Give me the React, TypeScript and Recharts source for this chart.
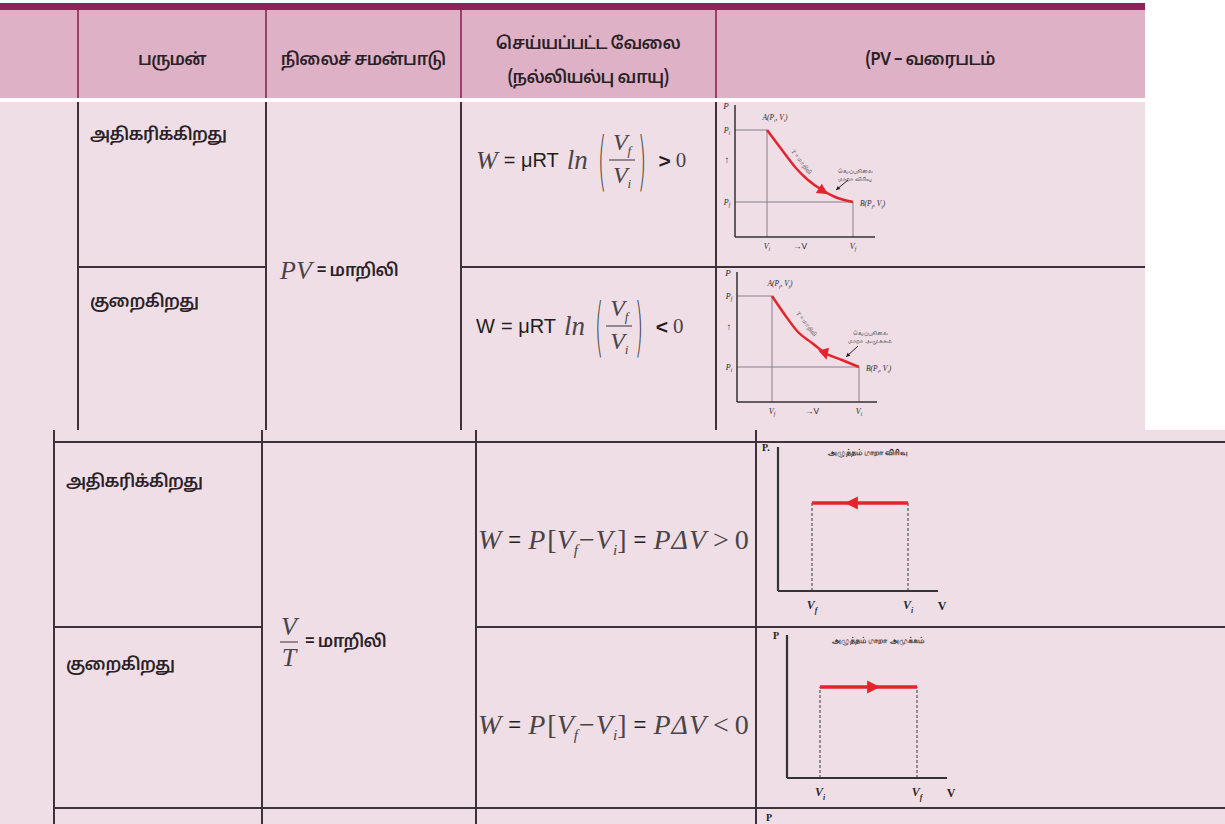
import React from 'react';
import { LineChart, Line, XAxis, YAxis, ReferenceLine, ReferenceDot } from 'recharts';

// ---------- table text ----------
const headerTitles = ['பருமன்', 'நிலைச் சமன்பாடு', 'செய்யப்பட்ட வேலை', '(நல்லியல்பு வாயு)', '(PV – வரைபடம்'];
const quantityStates = ['அதிகரிக்கிறது', 'குறைகிறது'];
const constantWord = 'மாறிலி';

// ---------- diagram 1: isothermal expansion ----------
const isoExpV = [3.2, 4.7, 6.0, 7.3, 8.7, 10.0, 11.8];
const isoExpP = [10.7, 8.7, 7.0, 5.7, 4.7, 4.0, 3.5];
const isoExpXTicks = [3.2, 6.5, 11.8];
const isoExpXLabels = ['V_i', '→V', 'V_f'];
const isoExpYTicks = [3.5, 7.7, 10.7];
const isoExpYLabels = ['P_f', '↑', 'P_i'];
const isoExpPointLabels = ['A(P_i, V_i)', 'B(P_f, V_f)'];
const isoExpNote = ['வெப்பநிலை', 'மாறா விரிவு'];
const isoExpArrow = [8.8, 4.6];

// ---------- diagram 2: isothermal compression ----------
const isoCompV = [3.5, 4.8, 6.1, 7.5, 8.8, 10.5, 12.2];
const isoCompP = [10.6, 8.7, 7.0, 5.9, 4.9, 4.2, 3.5];
const isoCompXTicks = [3.5, 7.5, 12.2];
const isoCompXLabels = ['V_f', '→V', 'V_i'];
const isoCompYTicks = [3.5, 7.5, 10.6];
const isoCompYLabels = ['P_i', '↑', 'P_f'];
const isoCompPointLabels = ['A(P_f, V_f)', 'B(P_i, V_i)'];
const isoCompNote = ['வெப்பநிலை', 'மாறா அமுக்கம்'];
const isoCompArrow = [8.8, 4.8];

// ---------- diagram 3: isobaric expansion ----------
const isobarExpV = [3.4, 13.0];
const isobarExpP = [8.8, 8.8];
const isobarExpXTicks = [3.4, 13.0];
const isobarExpXLabels = ['V_f', 'V_i'];
const isobarExpTitle = 'அழுத்தம் மாறா விரிவு';
const isobarExpArrow = [7.4, 8.8];

// ---------- diagram 4: isobaric compression ----------
const isobarCompV = [3.3, 13.0];
const isobarCompP = [9.1, 9.1];
const isobarCompXTicks = [3.3, 13.0];
const isobarCompXLabels = ['V_i', 'V_f'];
const isobarCompTitle = 'அழுத்தம் மாறா அமுக்கம்';
const isobarCompArrow = [8.6, 9.1];

const toPts = (vs: number[], ps: number[]) => vs.map((v, i) => ({ v, p: ps[i] }));

const C = {
  band: '#8c2458',
  header: '#dfb1c6',
  headerSep: '#9d3f6c',
  body: '#efdee6',
  line: '#3d3239',
  text: '#231d21',
  red: '#e4242c',
  guide: '#8a8088',
};

const SERIF = "'Liberation Serif', 'DejaVu Serif', serif";
const SANS = "'Liberation Sans', Arimo, 'Noto Sans', sans-serif";

function SubText({ x, y, label, size, anchor = 'middle', italic = true, weight = 'normal', family = SERIF }: any) {
  const parts = label.split('_');
  const out: any[] = [];
  out.push(<tspan key="b0">{parts[0]}</tspan>);
  for (let i = 1; i < parts.length; i++) {
    out.push(
      <tspan key={'s' + i} dy={size * 0.3} fontSize={size * 0.65}>
        {parts[i].charAt(0)}
      </tspan>
    );
    const rest = parts[i].slice(1);
    if (rest) out.push(<tspan key={'r' + i} dy={-size * 0.3}>{rest}</tspan>);
  }
  return (
    <text x={x} y={y} fontSize={size} textAnchor={anchor} fontFamily={family} fontStyle={italic ? 'italic' : 'normal'} fontWeight={weight} fill="#2a2a2a">
      {out}
    </text>
  );
}

function Arrowhead({ cx, cy, angle, len }: any) {
  const w = len * 0.5;
  return (
    <polygon
      points={`${len * 0.55},0 ${-len * 0.45},${-w} ${-len * 0.45},${w}`}
      transform={`translate(${cx},${cy}) rotate(${angle})`}
      fill={C.red}
    />
  );
}

type Guide = { a: [number, number]; b: [number, number]; dashed?: boolean };

function PVChart(p: any) {
  const {
    left, top, width, height, yw, xh, mt, mr, xMax, yMax, data, smooth, lineW, axisW,
    xTicks, xLabels, yTicks, yLabels, guides, tickSize, tickDy, yTickDx, bold, extras,
  } = p;
  const idx = (arr: number[], v: number) => arr.findIndex((t) => Math.abs(t - v) < 1e-6);
  return (
    <div style={{ position: 'absolute', left, top }}>
      <LineChart width={width} height={height} data={data} margin={{ top: mt, right: mr, left: 0, bottom: 0 }} style={{ overflow: 'visible' }}>
        <XAxis
          type="number"
          dataKey="v"
          domain={[0, xMax]}
          allowDataOverflow
          ticks={xTicks}
          interval={0}
          tickSize={0}
          tickMargin={0}
          tickLine={false}
          height={xh}
          axisLine={{ stroke: '#333', strokeWidth: axisW }}
          tick={(tp: any) => {
            const i = idx(xTicks, tp.payload.value);
            const lab = xLabels[i] || '';
            const arrow = lab.startsWith('→');
            return (
              <SubText
                x={tp.x}
                y={tp.y + tickDy}
                label={lab}
                size={arrow ? tickSize * 1.05 : tickSize}
                italic={!arrow}
                weight={bold ? 'bold' : 'normal'}
                family={arrow ? SANS : SERIF}
              />
            );
          }}
        />
        <YAxis
          type="number"
          domain={[0, yMax]}
          allowDataOverflow
          ticks={yTicks || []}
          interval={0}
          tickSize={0}
          tickMargin={0}
          tickLine={false}
          width={yw}
          axisLine={{ stroke: '#333', strokeWidth: axisW }}
          tick={(tp: any) => {
            if (!yTicks) return <g />;
            const i = idx(yTicks, tp.payload.value);
            const lab = yLabels[i] || '';
            const arrow = lab === '↑';
            return (
              <SubText
                x={tp.x - yTickDx}
                y={tp.y + tickSize * 0.35}
                label={lab}
                size={arrow ? tickSize * 1.2 : tickSize}
                italic={!arrow}
                family={arrow ? SANS : SERIF}
              />
            );
          }}
        />
        {guides.map((g: Guide, i: number) => (
          <ReferenceLine
            key={'g' + i}
            segment={[{ x: g.a[0], y: g.a[1] }, { x: g.b[0], y: g.b[1] }]}
            stroke={g.dashed ? '#555' : C.guide}
            strokeWidth={g.dashed ? 1.2 : 1}
            strokeDasharray={g.dashed ? '3 2' : undefined}
            ifOverflow="visible"
          />
        ))}
        <Line
          type={smooth ? 'monotone' : 'linear'}
          dataKey="p"
          stroke={C.red}
          strokeWidth={lineW}
          dot={false}
          isAnimationActive={false}
        />
        {extras}
      </LineChart>
    </div>
  );
}

function isoGuides(vs: number[], ps: number[]): Guide[] {
  const n = vs.length - 1;
  return [
    { a: [0, ps[0]], b: [vs[0], ps[0]] },
    { a: [vs[0], 0], b: [vs[0], ps[0]] },
    { a: [0, ps[n]], b: [vs[n], ps[n]] },
    { a: [vs[n], 0], b: [vs[n], ps[n]] },
  ];
}
function barGuides(vs: number[], ps: number[]): Guide[] {
  return vs.map((v, i) => ({ a: [v, 0] as [number, number], b: [v, ps[i]] as [number, number], dashed: true }));
}

const dotAt = (key: string, x: number, y: number, shape: any) => (
  <ReferenceDot key={key} x={x} y={y} r={0} ifOverflow="visible" shape={shape} />
);

function IsoExtras(vs: number[], ps: number[], labels: string[], note: string[], arrow: number[], arrowAngle: number, notePos: number[], leader: number[], curveLabelPos: number[], yMax: number) {
  const n = vs.length - 1;
  return [
    dotAt('P', 0, yMax, (d: any) => <SubText x={d.cx - 9} y={d.cy + 4} label="P" size={9} />),
    dotAt('A', vs[0], ps[0], (d: any) => <SubText x={d.cx + 8} y={d.cy - 10} label={labels[0]} size={7.5} />),
    dotAt('B', vs[n], ps[n], (d: any) => <SubText x={d.cx + 7} y={d.cy + 4} label={labels[1]} size={7.5} anchor="start" />),
    dotAt('arr', arrow[0], arrow[1], (d: any) => <Arrowhead cx={d.cx} cy={d.cy} angle={arrowAngle} len={11} />),
    dotAt('note', notePos[0], notePos[1], (d: any) => (
      <g>
        <text x={d.cx} y={d.cy - 2} fontSize={6} textAnchor="middle" fill="#333" fontFamily={SANS}>{note[0]}</text>
        <text x={d.cx} y={d.cy + 6} fontSize={6} textAnchor="middle" fill="#333" fontFamily={SANS}>{note[1]}</text>
        <line x1={d.cx + leader[0]} y1={d.cy + leader[1]} x2={d.cx + leader[2]} y2={d.cy + leader[3]} stroke="#222" strokeWidth={1} />
        <polygon points="0,0 -4,-2 -4,2" fill="#222" transform={`translate(${d.cx + leader[2]},${d.cy + leader[3]}) rotate(${(Math.atan2(leader[3] - leader[1], leader[2] - leader[0]) * 180) / Math.PI})`} />
      </g>
    )),
    dotAt('clab', curveLabelPos[0], curveLabelPos[1], (d: any) => (
      <text x={d.cx} y={d.cy} fontSize={6} textAnchor="middle" fill="#444" fontFamily={SERIF} transform={`rotate(52 ${d.cx} ${d.cy})`}>
        {'T = ' + constantWord}
      </text>
    )),
  ];
}

function BarExtras(title: string, titlePos: number[], arrow: number[], arrowAngle: number, xMax: number, yMax: number, pLabel: string, pDx: number) {
  return [
    dotAt('P', 0, yMax, (d: any) => (
      <text x={d.cx + pDx} y={d.cy + 4} fontSize={10} fontWeight="bold" fontFamily={SERIF} fill="#222">{pLabel}</text>
    )),
    dotAt('V', xMax, 0, (d: any) => (
      <text x={d.cx + 4} y={d.cy + 19} fontSize={12} fontWeight="bold" fontFamily={SERIF} fill="#222" textAnchor="middle">V</text>
    )),
    dotAt('title', titlePos[0], titlePos[1], (d: any) => (
      <text x={d.cx} y={d.cy + 3} fontSize={8} fontWeight="bold" textAnchor="middle" fontFamily={SANS} fill="#333">{title}</text>
    )),
    dotAt('arr', arrow[0], arrow[1], (d: any) => <Arrowhead cx={d.cx} cy={d.cy} angle={arrowAngle} len={13} />),
  ];
}

// ---------- table helpers ----------
const HL = ({ x1, x2, y, w = 2, c = C.line }: any) => (
  <div style={{ position: 'absolute', left: x1, top: y - w / 2, width: x2 - x1, height: w, background: c }} />
);
const VL = ({ x, y1, y2, w = 2, c = C.line }: any) => (
  <div style={{ position: 'absolute', left: x - w / 2, top: y1, width: w, height: y2 - y1, background: c }} />
);
const T = ({ x, y, children, center = false, style = {} }: any) => (
  <div
    style={{
      position: 'absolute',
      left: x,
      top: y,
      transform: `translate(${center ? '-50%' : '0'}, -50%)`,
      whiteSpace: 'nowrap',
      display: 'flex',
      alignItems: 'center',
      color: C.text,
      ...style,
    }}
  >
    {children}
  </div>
);

const GRAY = '#4a4448';
const it = (size: number): React.CSSProperties => ({ fontFamily: SERIF, fontStyle: 'italic', fontSize: size, color: GRAY });
const sans = (size: number, bold = false): React.CSSProperties => ({ fontFamily: SANS, fontSize: size, fontWeight: bold ? 700 : 400 });

const V = ({ sub, size }: any) => (
  <span style={it(size)}>
    V<sub style={{ fontSize: size * 0.55, verticalAlign: 'baseline', position: 'relative', top: size * 0.2 }}>{sub}</sub>
  </span>
);

const Paren = ({ ch }: any) => (
  <span
    style={{
      display: 'inline-block',
      fontFamily: "'DejaVu Sans', sans-serif",
      fontWeight: 300,
      fontSize: 26,
      transform: 'scale(0.8, 2.45)',
      color: '#444',
      margin: '0 1px',
    }}
  >
    {ch}
  </span>
);

const Frac = ({ top, bottom }: any) => (
  <span style={{ display: 'inline-flex', flexDirection: 'column', alignItems: 'center', margin: '0 1px' }}>
    <span style={{ padding: '0 4px 1px', lineHeight: '27px' }}>{top}</span>
    <span style={{ borderTop: '1.5px solid #333', padding: '1px 4px 0', lineHeight: '27px' }}>{bottom}</span>
  </span>
);

const IsoWork = ({ x, y, sign, italicW }: any) => (
  <T x={x} y={y}>
    <span style={italicW ? it(26) : sans(20)}>W</span>
    <span style={{ ...sans(20), marginLeft: 6 }}>= μRT</span>
    <span style={{ ...it(27), marginLeft: 8 }}>ln</span>
    <span style={{ marginLeft: 8, display: 'inline-flex', alignItems: 'center' }}>
      <Paren ch="(" />
      <Frac top={<V sub="f" size={24} />} bottom={<V sub="i" size={24} />} />
      <Paren ch=")" />
    </span>
    <span style={{ ...sans(21, true), marginLeft: 10 }}>{sign}</span>
    <span style={{ fontFamily: SERIF, fontSize: 21, marginLeft: 5, color: GRAY }}>0</span>
  </T>
);

const BarWork = ({ x, y, sign }: any) => {
  const s = 28;
  const up = { fontFamily: SERIF, fontSize: s, color: GRAY };
  return (
    <T x={x} y={y}>
      <span style={it(s)}>W</span>
      <span style={{ fontFamily: SANS, fontSize: 22, margin: '0 7px' }}>=</span>
      <span style={it(s)}>P</span>
      <span style={{ ...up, marginLeft: 2 }}>[</span>
      <V sub="f" size={s} />
      <span style={{ ...up, margin: '0 1px' }}>−</span>
      <V sub="i" size={s} />
      <span style={up}>]</span>
      <span style={{ fontFamily: SANS, fontSize: 22, margin: '0 7px' }}>=</span>
      <span style={{ ...it(s), letterSpacing: 1 }}>PΔV</span>
      <span style={{ ...up, margin: '0 6px' }}>{sign}</span>
      <span style={up}>0</span>
    </T>
  );
};

export default function App() {
  const tamil: React.CSSProperties = {
    fontFamily: "'Noto Sans Tamil', 'Lohit Tamil', 'Noto Sans', sans-serif",
    fontSize: 17,
    fontWeight: 600,
    letterSpacing: -0.7,
    color: '#2a2226',
  };
  return (
    <div style={{ position: 'absolute', left: 0, top: 0, width: 1225, height: 824, background: '#fff', overflow: 'hidden' }}>
      {/* ===== top panel ===== */}
      <div style={{ position: 'absolute', left: 0, top: 0, width: 1145, height: 430, background: C.body }} />
      <div style={{ position: 'absolute', left: 0, top: 0, width: 1145, height: 3, background: '#fff' }} />
      <div style={{ position: 'absolute', left: 0, top: 3, width: 1145, height: 7, background: C.band }} />
      <div style={{ position: 'absolute', left: 0, top: 10, width: 1145, height: 88, background: C.header }} />
      <div style={{ position: 'absolute', left: 0, top: 98, width: 1145, height: 4, background: '#ffffff' }} />
      {[78, 266, 461, 716].map((x) => (
        <VL key={'hs' + x} x={x} y1={10} y2={98} w={1.5} c={C.headerSep} />
      ))}
      {[78, 266, 461, 716].map((x) => (
        <VL key={'bv' + x} x={x} y1={102} y2={430} />
      ))}
      <HL x1={78} x2={266} y={267} />
      <HL x1={461} x2={1145} y={267} />

      <T x={172} y={60} center style={tamil}>{headerTitles[0]}</T>
      <T x={363} y={60} center style={tamil}>{headerTitles[1]}</T>
      <T x={588} y={44} center style={tamil}>{headerTitles[2]}</T>
      <T x={588} y={78} center style={tamil}>{headerTitles[3]}</T>
      <T x={930} y={60} center style={tamil}>{headerTitles[4]}</T>

      <T x={90} y={135} style={tamil}>{quantityStates[0]}</T>
      <T x={90} y={302} style={tamil}>{quantityStates[1]}</T>
      <T x={280} y={271}>
        <span style={it(26)}>PV</span>
        <span style={{ ...tamil, marginLeft: 5 }}>= {constantWord}</span>
      </T>
      <IsoWork x={476} y={160} sign=">" italicW />
      <IsoWork x={476} y={326} sign="<" italicW={false} />

      <PVChart
        left={718} top={99} width={177} height={166} yw={17} xh={28} mt={6} mr={20}
        xMax={14} yMax={13.2} data={toPts(isoExpV, isoExpP)} smooth lineW={2.5} axisW={1.5}
        xTicks={isoExpXTicks} xLabels={isoExpXLabels} yTicks={isoExpYTicks} yLabels={isoExpYLabels}
        guides={isoGuides(isoExpV, isoExpP)} tickSize={8} tickDy={12} yTickDx={8}
        extras={IsoExtras(isoExpV, isoExpP, isoExpPointLabels, isoExpNote, isoExpArrow, 32, [12.0, 6.2], [-7, 5, -19, 15], [6.5, 7.4], 13.2)}
      />
      <PVChart
        left={718} top={266} width={177} height={162} yw={19} xh={26} mt={6} mr={18}
        xMax={14} yMax={13} data={toPts(isoCompV, isoCompP)} smooth lineW={2.5} axisW={1.5}
        xTicks={isoCompXTicks} xLabels={isoCompXLabels} yTicks={isoCompYTicks} yLabels={isoCompYLabels}
        guides={isoGuides(isoCompV, isoCompP)} tickSize={8} tickDy={12} yTickDx={8}
        extras={IsoExtras(isoCompV, isoCompP, isoCompPointLabels, isoCompNote, isoCompArrow, 75, [13.3, 6.5], [-12, 9, -24, 20], [6.8, 7.7], 13)}
      />

      {/* ===== bottom panel ===== */}
      <div style={{ position: 'absolute', left: 0, top: 430, width: 1225, height: 394, background: C.body }} />
      {[54, 262, 476, 756].map((x) => (
        <VL key={'lv' + x} x={x} y1={430} y2={824} />
      ))}
      <HL x1={54} x2={1225} y={442} />
      <HL x1={54} x2={262} y={627} />
      <HL x1={476} x2={1225} y={627} />
      <HL x1={54} x2={1225} y={808} />

      <T x={66} y={482} style={tamil}>{quantityStates[0]}</T>
      <T x={66} y={665} style={tamil}>{quantityStates[1]}</T>
      <T x={279} y={642}>
        <span style={{ display: 'inline-flex', flexDirection: 'column', alignItems: 'center' }}>
          <span style={{ ...it(26), lineHeight: '30px', padding: '0 2px' }}>V</span>
          <span style={{ ...it(26), lineHeight: '30px', borderTop: '1.5px solid #333', padding: '0 2px' }}>T</span>
        </span>
        <span style={{ ...tamil, marginLeft: 6 }}>= {constantWord}</span>
      </T>
      <BarWork x={478} y={540} sign=">" />
      <BarWork x={478} y={725} sign="<" />

      <PVChart
        left={760} top={443} width={200} height={175} yw={18} xh={27} mt={4} mr={22}
        xMax={16} yMax={14.4} data={toPts(isobarExpV, isobarExpP)} smooth={false} lineW={3.5} axisW={2.2}
        xTicks={isobarExpXTicks} xLabels={isobarExpXLabels} yTicks={null} yLabels={[]}
        guides={barGuides(isobarExpV, isobarExpP)} tickSize={12} tickDy={18} yTickDx={8} bold
        extras={BarExtras(isobarExpTitle, [9.0, 13.9], isobarExpArrow, 180, 16, 14.4, 'P.', -16)}
      />
      <PVChart
        left={769} top={631} width={200} height={172} yw={18} xh={25} mt={4} mr={22}
        xMax={16} yMax={14.3} data={toPts(isobarCompV, isobarCompP)} smooth={false} lineW={3.5} axisW={2.2}
        xTicks={isobarCompXTicks} xLabels={isobarCompXLabels} yTicks={null} yLabels={[]}
        guides={barGuides(isobarCompV, isobarCompP)} tickSize={12} tickDy={18} yTickDx={8} bold
        extras={BarExtras(isobarCompTitle, [9.1, 13.8], isobarCompArrow, 0, 16, 14.3, 'P', -14)}
      />
      <div style={{ position: 'absolute', left: 766, top: 812, fontFamily: SERIF, fontWeight: 'bold', fontSize: 10, color: '#222' }}>P</div>
    </div>
  );
}
